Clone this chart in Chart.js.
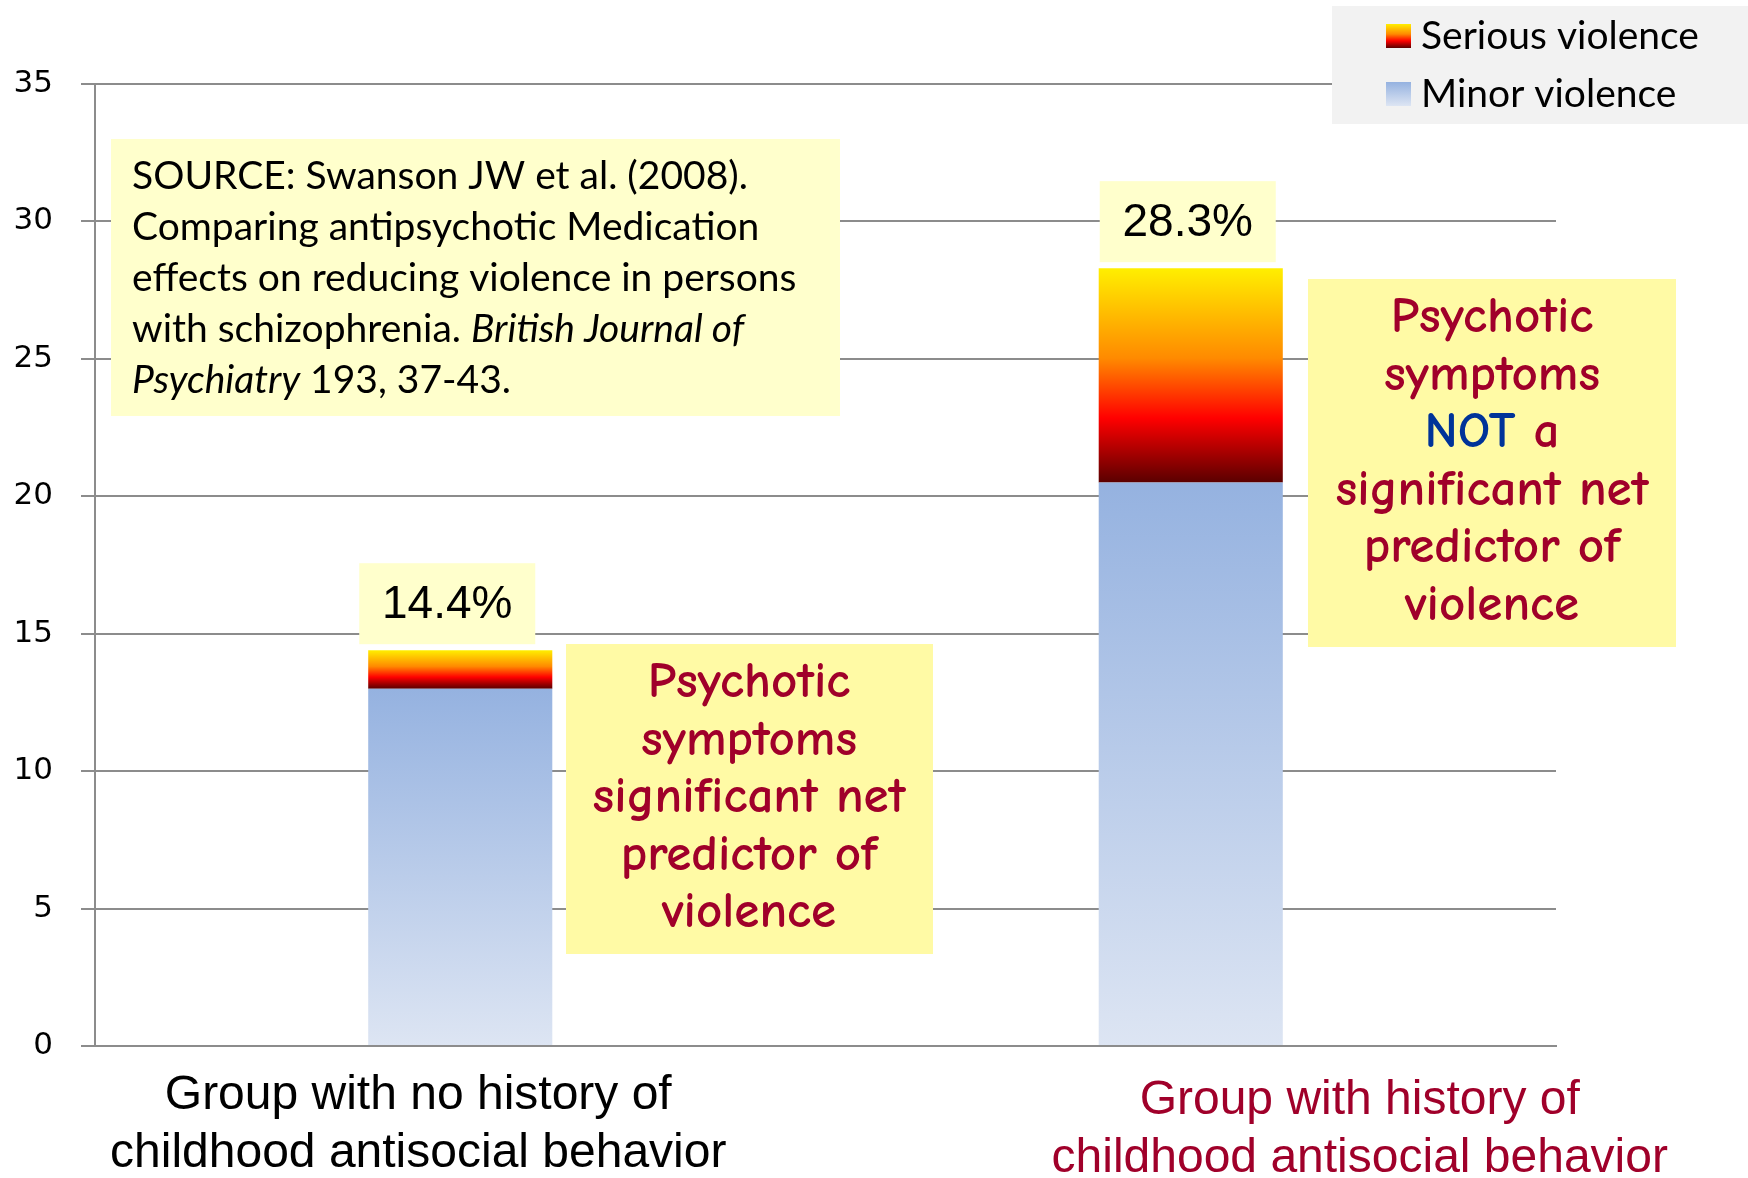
<!DOCTYPE html>
<html>
<head>
<meta charset="utf-8">
<script src="https://cdn.jsdelivr.net/npm/chart.js@4"></script>
<style>
  html, body { margin: 0; padding: 0; background: #fff; }
  #wrap { width: 1748px; height: 1178px; position: relative; }
</style>
</head>
<body>
<div id="wrap"><canvas id="chart"></canvas></div>
<script>
const categories = [
  ["Group with no history of", "childhood antisocial behavior"],
  ["Group with history of", "childhood antisocial behavior"]
];
const minorViolence = [13.0, 20.5];
const seriousViolence = [1.4, 7.8];
const totalLabels = ["14.4%", "28.3%"];
const yTicks = [0, 5, 10, 15, 20, 25, 30, 35];

const sourceLines = [
  [["SOURCE: Swanson JW et al. (2008).", false]],
  [["Comparing antipsychotic Medication", false]],
  [["effects on reducing violence in persons", false]],
  [["with schizophrenia. ", false], ["British Journal of", true]],
  [["Psychiatry", true], [" 193, 37-43.", false]]
];
const noteLeft = ["Psychotic", "symptoms", "significant net", "predictor of", "violence"];
const noteRight = ["Psychotic", "symptoms", "NOT a", "significant net", "predictor of", "violence"];

const seriousStops = [[0, "#FFEF00"], [0.42, "#FF8A00"], [0.7, "#FF0000"], [1, "#5A0000"]];
const minorStops = [[0, "#95B2E0"], [1, "#DDE5F3"]];
const darkRed = "#A0002A";
const comicFont = "'Comic Sans MS', 'Comic Neue', 'Noto Sans', sans-serif";
const calibriFont = "Lato, 'Open Sans', sans-serif";

function barGradient(ctx, stops, from, to) {
  const chart = ctx.chart;
  const y = chart.scales && chart.scales.y;
  if (!chart.chartArea || !y || ctx.dataIndex === undefined) return stops[0][1];
  const top = y.getPixelForValue(to), bottom = y.getPixelForValue(from);
  const g = chart.ctx.createLinearGradient(0, top, 0, bottom);
  stops.forEach(([o, c]) => g.addColorStop(o, c));
  return g;
}

function box(ctx, x, y, w, h, color) {
  ctx.fillStyle = color;
  ctx.fillRect(x, y, w, h);
}

const overlays = {
  id: "overlays",
  afterDatasetsDraw(chart) {
    const ctx = chart.ctx;
    ctx.save();

    // value labels above each stack
    const labelShift = [-101, -91];
    const topMeta = chart.getDatasetMeta(1);
    topMeta.data.forEach((el, i) => {
      const bx = el.x + labelShift[i], bw = 176, bh = 81, by = el.y - 6 - bh;
      box(ctx, bx, by, bw, bh, "#FFFFCC");
      ctx.fillStyle = "#000";
      ctx.font = "46px 'Liberation Sans', Arial, sans-serif";
      ctx.textAlign = "center";
      ctx.textBaseline = "middle";
      ctx.fillText(totalLabels[i], bx + bw / 2, by + bh / 2 + 2);
    });

    // source box
    box(ctx, 111, 139, 729, 277, "#FFFFCC");
    ctx.textBaseline = "middle";
    ctx.textAlign = "left";
    ctx.fillStyle = "#000";
    sourceLines.forEach((segs, li) => {
      let x = 132;
      const y = 176 + li * 51;
      segs.forEach(([t, it]) => {
        ctx.font = (it ? "italic " : "") + "39px " + calibriFont;
        ctx.fillText(t, x, y);
        x += ctx.measureText(t).width;
      });
    });

    // note boxes
    box(ctx, 566, 644, 367, 310, "#FFFAA5");
    box(ctx, 1308, 279, 368, 368, "#FFFAA5");
    ctx.textAlign = "left";
    const noteFont = "bold 51px " + comicFont;
    const drawNote = (lines, cx, y0) => {
      lines.forEach((line, li) => {
        const y = y0 + li * 57.5;
        ctx.font = noteFont;
        if (line === "NOT a") {
          const w1 = ctx.measureText("NOT").width;
          const w2 = ctx.measureText(" a").width;
          const x = cx - (w1 + w2) / 2;
          ctx.fillStyle = "#003399";
          ctx.fillText("NOT", x, y);
          ctx.fillStyle = darkRed;
          ctx.fillText(" a", x + w1, y);
        } else {
          ctx.fillStyle = darkRed;
          const w = ctx.measureText(line).width;
          ctx.fillText(line, cx - w / 2, y);
        }
      });
    };
    drawNote(noteLeft, 749, 683);
    drawNote(noteRight, 1492, 318);

    // legend
    box(ctx, 1332, 6, 416, 118, "#F2F2F2");
    const items = [
      { label: chart.data.datasets[1].label, stops: seriousStops, y: 36 },
      { label: chart.data.datasets[0].label, stops: minorStops, y: 94 }
    ];
    items.forEach(it => {
      const g = ctx.createLinearGradient(0, it.y - 12, 0, it.y + 12);
      it.stops.forEach(([o, c]) => g.addColorStop(o, c));
      ctx.fillStyle = g;
      ctx.fillRect(1386, it.y - 12, 25, 24);
      ctx.fillStyle = "#000";
      ctx.font = "39px " + calibriFont;
      ctx.textAlign = "left";
      ctx.textBaseline = "middle";
      ctx.fillText(it.label, 1421, it.y);
    });

    // category labels
    const xs = chart.scales.x;
    const offsets = [-42, 169];
    const lineY = [[1096, 1154], [1101, 1159]];
    const colors = ["#000", darkRed];
    ctx.font = "48px 'Liberation Sans', Arial, sans-serif";
    ctx.textAlign = "center";
    categories.forEach((lines, i) => {
      const cx = xs.getPixelForValue(i) + offsets[i];
      ctx.fillStyle = colors[i];
      lines.forEach((l, j) => ctx.fillText(l, cx, lineY[i][j]));
    });

    ctx.restore();
  }
};

new Chart(document.getElementById("chart"), {
  type: "bar",
  data: {
    labels: categories,
    datasets: [
      {
        label: "Minor violence",
        data: minorViolence,
        backgroundColor: c => barGradient(c, minorStops, 0, minorViolence[c.dataIndex]),
        borderWidth: 0
      },
      {
        label: "Serious violence",
        data: seriousViolence,
        backgroundColor: c => barGradient(c, seriousStops, minorViolence[c.dataIndex],
          minorViolence[c.dataIndex] + seriousViolence[c.dataIndex]),
        borderWidth: 0
      }
    ]
  },
  options: {
    responsive: true,
    maintainAspectRatio: false,
    animation: false,
    layout: { padding: { top: 84, right: 192, left: 0, bottom: 0 } },
    datasets: { bar: { categoryPercentage: 1, barPercentage: 0.252 } },
    plugins: { legend: { display: false }, tooltip: { enabled: false } },
    scales: {
      x: {
        stacked: true,
        ticks: { display: false },
        grid: { display: false },
        border: { display: true, color: "#8C8C8C", width: 2 },
        afterFit(s) { s.height = 132; }
      },
      y: {
        stacked: true,
        min: yTicks[0],
        max: yTicks[yTicks.length - 1],
        afterBuildTicks(s) { s.ticks = yTicks.map(v => ({ value: v })); },
        ticks: {
          color: "#000",
          padding: 28,
          font: { family: "'DejaVu Sans', Verdana, sans-serif", size: 31 }
        },
        grid: { color: "#8C8C8C", lineWidth: 2, tickLength: 14 },
        border: { color: "#8C8C8C", width: 2 },
        afterFit(s) { s.width = 95; }
      }
    }
  },
  plugins: [overlays]
});
</script>
</body>
</html>
